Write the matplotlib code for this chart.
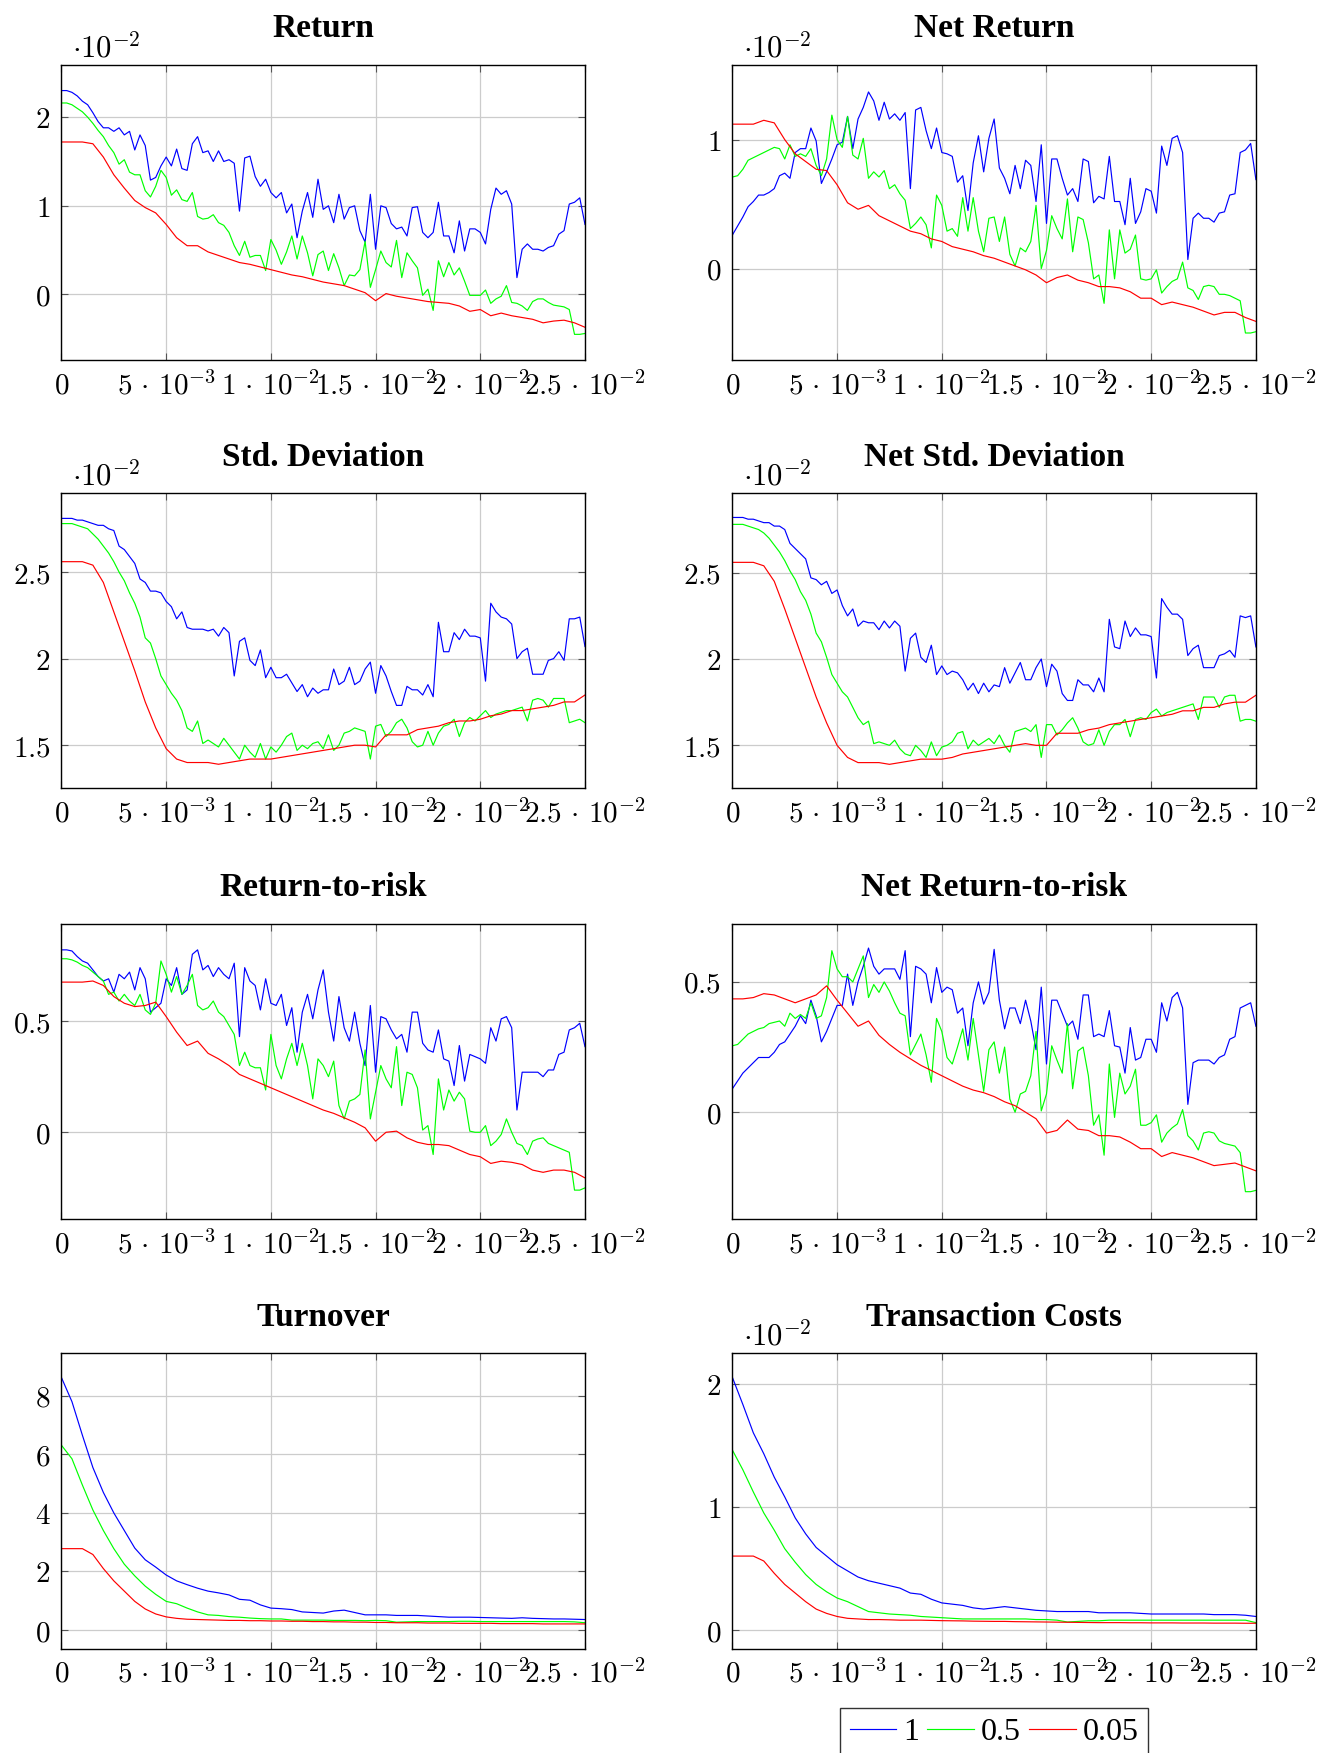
import numpy as np
import matplotlib
matplotlib.use("Agg")
import matplotlib.pyplot as plt
from matplotlib.ticker import FuncFormatter

plt.rcParams['mathtext.fontset'] = 'cm'
plt.rcParams['font.family'] = ['DejaVu Serif']

# x grids (regularisation parameter)
x_fine = np.linspace(0, 0.025, 101)    # step 2.5e-4, noisy series
x_coarse = np.linspace(0, 0.025, 51)   # step 5e-4, smooth series

xticks = [0, 0.005, 0.01, 0.015, 0.02, 0.025]
xtick_labels = ['$0$', r'$5\,\cdot\,10^{-3}$', r'$1\,\cdot\,10^{-2}$',
                r'$1.5\,\cdot\,10^{-2}$', r'$2\,\cdot\,10^{-2}$', r'$2.5\,\cdot\,10^{-2}$']

series_labels = ['1', '0.5', '0.05']

# ---- Return (x1e-2)
ret_1 = [2.30, 2.30, 2.28, 2.24, 2.18, 2.14, 2.05, 1.95,
         1.88, 1.88, 1.84, 1.88, 1.80, 1.84, 1.63, 1.80,
         1.68, 1.29, 1.32, 1.45, 1.55, 1.45, 1.64, 1.42,
         1.40, 1.70, 1.78, 1.60, 1.62, 1.50, 1.62, 1.50,
         1.52, 1.48, 0.94, 1.54, 1.56, 1.33, 1.22, 1.30,
         1.15, 1.09, 1.15, 0.92, 1.02, 0.64, 0.94, 1.15,
         0.87, 1.30, 0.96, 1.00, 0.81, 1.13, 0.85, 0.98,
         1.00, 0.72, 0.59, 1.13, 0.51, 1.00, 0.98, 0.80,
         0.74, 0.76, 0.66, 0.98, 0.99, 0.70, 0.64, 0.70,
         1.04, 0.66, 0.66, 0.47, 0.83, 0.49, 0.74, 0.74,
         0.70, 0.57, 0.96, 1.20, 1.13, 1.17, 1.02, 0.19,
         0.51, 0.57, 0.51, 0.51, 0.49, 0.53, 0.55, 0.68,
         0.72, 1.02, 1.04, 1.09, 0.79]
ret_05 = [2.16, 2.16, 2.14, 2.10, 2.06, 2.00, 1.93, 1.85,
          1.78, 1.68, 1.60, 1.47, 1.52, 1.38, 1.35, 1.35,
          1.17, 1.10, 1.22, 1.40, 1.32, 1.12, 1.18, 1.07,
          1.05, 1.15, 0.88, 0.85, 0.86, 0.90, 0.81, 0.78,
          0.70, 0.55, 0.44, 0.60, 0.42, 0.44, 0.44, 0.27,
          0.62, 0.50, 0.34, 0.48, 0.66, 0.40, 0.66, 0.47,
          0.21, 0.45, 0.49, 0.27, 0.46, 0.30, 0.10, 0.22,
          0.21, 0.28, 0.60, 0.08, 0.28, 0.49, 0.36, 0.31,
          0.61, 0.19, 0.47, 0.38, 0.30, -0.01, 0.06, -0.18,
          0.38, 0.20, 0.36, 0.22, 0.30, 0.15, -0.01, -0.01,
          -0.01, 0.05, -0.10, -0.05, -0.02, 0.10, -0.09, -0.10,
          -0.13, -0.18, -0.08, -0.05, -0.05, -0.09, -0.12, -0.13,
          -0.14, -0.17, -0.45, -0.45, -0.44]
ret_005 = [1.72, 1.72, 1.72, 1.70, 1.55, 1.35, 1.20, 1.06, 0.98, 0.92,
           0.79, 0.64, 0.55, 0.55, 0.48, 0.44, 0.40, 0.36, 0.34, 0.31,
           0.28, 0.25, 0.22, 0.20, 0.17, 0.14, 0.12, 0.10, 0.06, 0.02,
           -0.07, 0.01, -0.02, -0.04, -0.06, -0.08, -0.09, -0.10, -0.13, -0.19,
           -0.17, -0.24, -0.21, -0.24, -0.26, -0.28, -0.32, -0.30, -0.29, -0.32,
           -0.37]

# ---- Net Return (x1e-2)
netret_1 = [0.26, 0.33, 0.40, 0.48, 0.52, 0.57, 0.57, 0.59,
            0.62, 0.72, 0.74, 0.70, 0.90, 0.93, 0.93, 1.09,
            0.99, 0.66, 0.75, 0.85, 0.96, 0.98, 1.18, 0.93,
            1.16, 1.25, 1.37, 1.30, 1.15, 1.29, 1.16, 1.20,
            1.15, 1.21, 0.62, 1.23, 1.25, 1.07, 0.93, 1.09,
            0.90, 0.89, 0.87, 0.67, 0.72, 0.45, 0.82, 1.03,
            0.75, 1.01, 1.16, 0.78, 0.70, 0.58, 0.80, 0.62,
            0.84, 0.80, 0.52, 0.96, 0.35, 0.85, 0.85, 0.70,
            0.57, 0.62, 0.52, 0.85, 0.83, 0.51, 0.56, 0.54,
            0.87, 0.52, 0.52, 0.34, 0.70, 0.35, 0.44, 0.62,
            0.60, 0.43, 0.95, 0.80, 1.01, 1.03, 0.90, 0.07,
            0.39, 0.43, 0.39, 0.39, 0.36, 0.43, 0.44, 0.57,
            0.58, 0.90, 0.92, 0.97, 0.69]
netret_05 = [0.71, 0.72, 0.77, 0.84, 0.86, 0.88, 0.90, 0.92,
             0.94, 0.93, 0.85, 0.96, 0.87, 0.89, 0.87, 0.93,
             0.80, 0.72, 0.85, 1.19, 1.00, 0.94, 1.18, 0.88,
             0.85, 1.01, 0.70, 0.75, 0.71, 0.76, 0.62, 0.65,
             0.58, 0.53, 0.31, 0.35, 0.40, 0.34, 0.16, 0.57,
             0.49, 0.29, 0.31, 0.25, 0.55, 0.29, 0.55, 0.29,
             0.13, 0.39, 0.40, 0.21, 0.40, 0.11, 0.02, 0.16,
             0.13, 0.21, 0.49, 0.00, 0.14, 0.41, 0.31, 0.23,
             0.54, 0.13, 0.40, 0.38, 0.20, -0.08, -0.05, -0.27,
             0.30, -0.08, 0.30, 0.12, 0.15, 0.26, -0.08, -0.09,
             -0.08, -0.01, -0.19, -0.14, -0.10, -0.08, 0.05, -0.15,
             -0.17, -0.24, -0.14, -0.13, -0.14, -0.20, -0.20, -0.21,
             -0.23, -0.25, -0.50, -0.50, -0.49]
netret_005 = [1.12, 1.12, 1.12, 1.15, 1.13, 1.00, 0.89, 0.83, 0.77, 0.76,
              0.65, 0.51, 0.46, 0.49, 0.41, 0.37, 0.33, 0.29, 0.27, 0.23,
              0.21, 0.17, 0.15, 0.13, 0.10, 0.08, 0.05, 0.02, -0.01, -0.05,
              -0.11, -0.07, -0.05, -0.09, -0.11, -0.14, -0.14, -0.15, -0.18, -0.23,
              -0.23, -0.28, -0.26, -0.28, -0.30, -0.33, -0.36, -0.34, -0.34, -0.38,
              -0.41]

# ---- Std. Deviation (x1e-2)
std_1 = [2.81, 2.81, 2.81, 2.80, 2.80, 2.79, 2.78, 2.77,
         2.77, 2.75, 2.74, 2.65, 2.63, 2.59, 2.55, 2.46,
         2.44, 2.39, 2.39, 2.38, 2.33, 2.30, 2.23, 2.27,
         2.18, 2.17, 2.17, 2.17, 2.16, 2.17, 2.13, 2.18,
         2.15, 1.90, 2.10, 2.12, 1.99, 1.96, 2.05, 1.89,
         1.95, 1.89, 1.89, 1.91, 1.86, 1.81, 1.85, 1.78,
         1.83, 1.80, 1.82, 1.82, 1.94, 1.85, 1.87, 1.95,
         1.85, 1.87, 1.94, 1.98, 1.80, 1.96, 1.90, 1.81,
         1.73, 1.73, 1.84, 1.82, 1.82, 1.79, 1.85, 1.78,
         2.21, 2.04, 2.04, 2.15, 2.11, 2.17, 2.13, 2.13,
         2.12, 1.87, 2.32, 2.27, 2.24, 2.23, 2.20, 2.00,
         2.04, 2.06, 1.91, 1.91, 1.91, 1.99, 2.00, 2.04,
         1.99, 2.23, 2.23, 2.24, 2.07]
std_05 = [2.78, 2.78, 2.78, 2.77, 2.76, 2.75, 2.72, 2.69,
          2.65, 2.61, 2.56, 2.50, 2.45, 2.38, 2.32, 2.24,
          2.12, 2.09, 2.00, 1.90, 1.85, 1.80, 1.76, 1.70,
          1.60, 1.58, 1.64, 1.51, 1.53, 1.51, 1.49, 1.54,
          1.50, 1.46, 1.42, 1.50, 1.46, 1.43, 1.51, 1.42,
          1.49, 1.46, 1.50, 1.55, 1.57, 1.47, 1.50, 1.48,
          1.51, 1.52, 1.48, 1.56, 1.47, 1.50, 1.57, 1.58,
          1.60, 1.59, 1.58, 1.42, 1.61, 1.62, 1.55, 1.58,
          1.63, 1.65, 1.60, 1.52, 1.49, 1.50, 1.58, 1.50,
          1.57, 1.61, 1.62, 1.65, 1.55, 1.63, 1.66, 1.64,
          1.67, 1.70, 1.66, 1.68, 1.69, 1.70, 1.70, 1.71,
          1.72, 1.64, 1.76, 1.77, 1.76, 1.72, 1.77, 1.77,
          1.77, 1.63, 1.64, 1.65, 1.63]
std_005 = [2.56, 2.56, 2.56, 2.54, 2.44, 2.27, 2.10, 1.93, 1.75, 1.60,
           1.48, 1.42, 1.40, 1.40, 1.40, 1.39, 1.40, 1.41, 1.42, 1.42,
           1.42, 1.43, 1.44, 1.45, 1.46, 1.47, 1.48, 1.49, 1.50, 1.50,
           1.49, 1.56, 1.56, 1.56, 1.59, 1.60, 1.61, 1.63, 1.64, 1.64,
           1.65, 1.67, 1.68, 1.70, 1.70, 1.71, 1.72, 1.73, 1.75, 1.75,
           1.79]

# ---- Net Std. Deviation (x1e-2)
netstd_1 = [2.82, 2.82, 2.82, 2.81, 2.81, 2.80, 2.79, 2.79,
            2.77, 2.77, 2.75, 2.67, 2.64, 2.61, 2.58, 2.47,
            2.46, 2.43, 2.45, 2.38, 2.40, 2.31, 2.25, 2.29,
            2.19, 2.22, 2.21, 2.21, 2.17, 2.22, 2.18, 2.22,
            2.19, 1.93, 2.12, 2.15, 2.01, 1.98, 2.08, 1.91,
            1.96, 1.91, 1.93, 1.92, 1.88, 1.82, 1.86, 1.80,
            1.86, 1.81, 1.85, 1.84, 1.95, 1.86, 1.92, 1.98,
            1.88, 1.88, 1.95, 2.00, 1.84, 1.97, 1.93, 1.80,
            1.76, 1.76, 1.88, 1.85, 1.85, 1.81, 1.89, 1.81,
            2.23, 2.07, 2.06, 2.22, 2.13, 2.18, 2.14, 2.14,
            2.13, 1.89, 2.35, 2.30, 2.26, 2.26, 2.23, 2.02,
            2.06, 2.08, 1.95, 1.95, 1.95, 2.02, 2.03, 2.05,
            2.01, 2.25, 2.24, 2.25, 2.07]
netstd_05 = [2.78, 2.78, 2.78, 2.77, 2.76, 2.75, 2.73, 2.70,
             2.66, 2.62, 2.57, 2.51, 2.46, 2.39, 2.34, 2.26,
             2.15, 2.10, 2.01, 1.91, 1.86, 1.81, 1.78, 1.72,
             1.66, 1.62, 1.64, 1.51, 1.52, 1.51, 1.50, 1.53,
             1.48, 1.45, 1.44, 1.50, 1.47, 1.43, 1.52, 1.44,
             1.49, 1.50, 1.52, 1.57, 1.58, 1.48, 1.53, 1.50,
             1.52, 1.54, 1.51, 1.56, 1.50, 1.46, 1.58, 1.59,
             1.60, 1.58, 1.62, 1.43, 1.62, 1.62, 1.56, 1.59,
             1.63, 1.66, 1.60, 1.52, 1.50, 1.51, 1.59, 1.50,
             1.58, 1.62, 1.62, 1.65, 1.55, 1.65, 1.66, 1.65,
             1.69, 1.71, 1.67, 1.69, 1.70, 1.71, 1.72, 1.73,
             1.74, 1.65, 1.78, 1.78, 1.78, 1.72, 1.78, 1.79,
             1.79, 1.64, 1.65, 1.65, 1.64]
netstd_005 = [2.56, 2.56, 2.56, 2.54, 2.45, 2.29, 2.12, 1.95, 1.78, 1.63,
              1.50, 1.43, 1.40, 1.40, 1.40, 1.39, 1.40, 1.41, 1.42, 1.42,
              1.42, 1.43, 1.45, 1.46, 1.47, 1.48, 1.49, 1.50, 1.51, 1.50,
              1.50, 1.57, 1.57, 1.57, 1.59, 1.60, 1.62, 1.63, 1.64, 1.65,
              1.66, 1.67, 1.68, 1.70, 1.70, 1.72, 1.72, 1.74, 1.75, 1.75,
              1.79]

# ---- Return-to-risk
rtr_1 = [0.82, 0.82, 0.815, 0.79, 0.77, 0.76, 0.73, 0.70,
         0.68, 0.69, 0.63, 0.71, 0.69, 0.72, 0.64, 0.74,
         0.69, 0.54, 0.56, 0.58, 0.69, 0.66, 0.74, 0.62,
         0.64, 0.80, 0.82, 0.73, 0.75, 0.70, 0.74, 0.71,
         0.69, 0.76, 0.43, 0.74, 0.68, 0.66, 0.55, 0.69,
         0.58, 0.57, 0.62, 0.48, 0.56, 0.36, 0.54, 0.62,
         0.51, 0.64, 0.73, 0.54, 0.41, 0.61, 0.47, 0.41,
         0.54, 0.40, 0.30, 0.57, 0.27, 0.52, 0.51, 0.46,
         0.42, 0.44, 0.36, 0.54, 0.54, 0.40, 0.37, 0.36,
         0.46, 0.33, 0.32, 0.21, 0.39, 0.23, 0.35, 0.34,
         0.33, 0.31, 0.47, 0.41, 0.51, 0.52, 0.47, 0.10,
         0.27, 0.27, 0.27, 0.27, 0.25, 0.28, 0.28, 0.35,
         0.36, 0.46, 0.47, 0.49, 0.385]
rtr_05 = [0.78, 0.78, 0.775, 0.765, 0.75, 0.74, 0.72, 0.70,
          0.68, 0.62, 0.63, 0.59, 0.62, 0.59, 0.57, 0.62,
          0.55, 0.53, 0.58, 0.77, 0.71, 0.63, 0.70, 0.62,
          0.66, 0.71, 0.57, 0.55, 0.56, 0.59, 0.54, 0.52,
          0.48, 0.44, 0.30, 0.36, 0.30, 0.29, 0.29, 0.19,
          0.44, 0.30, 0.24, 0.33, 0.40, 0.30, 0.40, 0.30,
          0.15, 0.33, 0.30, 0.25, 0.32, 0.12, 0.06, 0.14,
          0.15, 0.17, 0.37, 0.06, 0.18, 0.30, 0.24, 0.20,
          0.385, 0.12, 0.27, 0.26, 0.20, 0.01, 0.03, -0.10,
          0.24, 0.10, 0.19, 0.14, 0.18, 0.15, 0.005, 0.00,
          0.00, 0.03, -0.06, -0.04, -0.01, 0.06, 0.00, -0.05,
          -0.06, -0.10, -0.04, -0.03, -0.025, -0.05, -0.06, -0.07,
          -0.08, -0.09, -0.26, -0.26, -0.25]
rtr_005 = [0.675, 0.675, 0.675, 0.68, 0.66, 0.61, 0.58, 0.565, 0.57, 0.585,
           0.52, 0.45, 0.39, 0.41, 0.355, 0.33, 0.30, 0.26, 0.24, 0.22,
           0.20, 0.18, 0.16, 0.14, 0.12, 0.10, 0.085, 0.065, 0.045, 0.02,
           -0.04, 0.00, 0.005, -0.025, -0.045, -0.055, -0.055, -0.06, -0.08, -0.10,
           -0.11, -0.14, -0.13, -0.135, -0.145, -0.17, -0.18, -0.17, -0.17, -0.18,
           -0.205]

# ---- Net Return-to-risk
netrtr_1 = [0.09, 0.12, 0.15, 0.17, 0.19, 0.21, 0.21, 0.21,
            0.23, 0.26, 0.27, 0.30, 0.33, 0.37, 0.34, 0.43,
            0.37, 0.27, 0.31, 0.36, 0.41, 0.41, 0.53, 0.41,
            0.50, 0.56, 0.63, 0.56, 0.53, 0.55, 0.55, 0.55,
            0.51, 0.62, 0.29, 0.56, 0.55, 0.53, 0.42, 0.555,
            0.46, 0.48, 0.47, 0.38, 0.40, 0.255, 0.42, 0.50,
            0.415, 0.46, 0.625, 0.43, 0.32, 0.40, 0.40, 0.34,
            0.43, 0.35, 0.24, 0.48, 0.185, 0.43, 0.43, 0.38,
            0.33, 0.35, 0.28, 0.45, 0.45, 0.29, 0.30, 0.29,
            0.39, 0.255, 0.25, 0.15, 0.325, 0.20, 0.21, 0.28,
            0.28, 0.23, 0.42, 0.35, 0.44, 0.46, 0.40, 0.03,
            0.19, 0.20, 0.20, 0.20, 0.185, 0.21, 0.22, 0.28,
            0.29, 0.40, 0.41, 0.42, 0.33]
netrtr_05 = [0.255, 0.26, 0.28, 0.30, 0.31, 0.32, 0.325, 0.34,
             0.345, 0.35, 0.33, 0.38, 0.36, 0.375, 0.36, 0.42,
             0.36, 0.37, 0.44, 0.62, 0.55, 0.52, 0.52, 0.50,
             0.55, 0.60, 0.44, 0.49, 0.46, 0.50, 0.465, 0.42,
             0.38, 0.37, 0.22, 0.26, 0.30, 0.22, 0.115, 0.36,
             0.31, 0.21, 0.185, 0.25, 0.32, 0.20, 0.36, 0.22,
             0.08, 0.24, 0.27, 0.15, 0.25, 0.05, 0.00, 0.07,
             0.08, 0.14, 0.31, 0.005, 0.07, 0.255, 0.20, 0.15,
             0.34, 0.09, 0.235, 0.25, 0.14, -0.05, -0.01, -0.165,
             0.185, -0.02, 0.15, 0.07, 0.10, 0.165, -0.05, -0.05,
             -0.04, -0.01, -0.115, -0.08, -0.06, -0.045, 0.01, -0.09,
             -0.11, -0.145, -0.08, -0.075, -0.08, -0.11, -0.12, -0.125,
             -0.13, -0.155, -0.305, -0.305, -0.30]
netrtr_005 = [0.435, 0.435, 0.44, 0.455, 0.45, 0.435, 0.42, 0.435, 0.45, 0.485,
              0.43, 0.38, 0.33, 0.35, 0.295, 0.26, 0.23, 0.205, 0.18, 0.16,
              0.14, 0.12, 0.10, 0.085, 0.075, 0.06, 0.04, 0.025, 0.00, -0.025,
              -0.08, -0.07, -0.03, -0.065, -0.07, -0.09, -0.09, -0.095, -0.115, -0.14,
              -0.14, -0.17, -0.155, -0.165, -0.175, -0.19, -0.205, -0.20, -0.195, -0.21,
              -0.225]

# ---- Turnover
turn_1 = [8.62, 7.80, 6.65, 5.55, 4.70, 4.00, 3.40, 2.80, 2.40, 2.15,
          1.88, 1.68, 1.55, 1.43, 1.33, 1.27, 1.20, 1.05, 1.02, 0.86,
          0.75, 0.73, 0.70, 0.62, 0.60, 0.58, 0.65, 0.68, 0.60, 0.52,
          0.52, 0.52, 0.50, 0.50, 0.50, 0.48, 0.46, 0.44, 0.44, 0.44,
          0.43, 0.42, 0.41, 0.40, 0.42, 0.40, 0.39, 0.38, 0.38, 0.37,
          0.36]
turn_05 = [6.31, 5.85, 4.95, 4.10, 3.40, 2.78, 2.25, 1.85, 1.50, 1.22,
           0.98, 0.90, 0.75, 0.62, 0.52, 0.50, 0.46, 0.44, 0.41, 0.39,
           0.38, 0.38, 0.34, 0.34, 0.34, 0.34, 0.33, 0.33, 0.33, 0.32,
           0.33, 0.32, 0.27, 0.28, 0.29, 0.29, 0.29, 0.29, 0.30, 0.30,
           0.29, 0.29, 0.29, 0.29, 0.29, 0.29, 0.29, 0.29, 0.29, 0.28,
           0.25]
turn_005 = [2.78, 2.78, 2.78, 2.58, 2.10, 1.68, 1.33, 0.98, 0.72, 0.55,
            0.45, 0.40, 0.37, 0.36, 0.35, 0.34, 0.33, 0.33, 0.32, 0.32,
            0.31, 0.31, 0.30, 0.30, 0.29, 0.29, 0.28, 0.28, 0.27, 0.27,
            0.26, 0.26, 0.25, 0.25, 0.25, 0.24, 0.24, 0.24, 0.23, 0.23,
            0.23, 0.23, 0.22, 0.22, 0.22, 0.22, 0.21, 0.21, 0.21, 0.21,
            0.21]

# ---- Transaction Costs (x1e-2)
tc_1 = [2.05, 1.83, 1.60, 1.43, 1.24, 1.08, 0.91, 0.78, 0.67, 0.60,
        0.53, 0.48, 0.43, 0.40, 0.38, 0.36, 0.34, 0.30, 0.29, 0.25,
        0.22, 0.21, 0.20, 0.18, 0.17, 0.18, 0.19, 0.18, 0.17, 0.16,
        0.155, 0.15, 0.15, 0.15, 0.15, 0.14, 0.14, 0.14, 0.14, 0.135,
        0.13, 0.13, 0.13, 0.13, 0.13, 0.13, 0.125, 0.125, 0.125, 0.12,
        0.11]
tc_05 = [1.46, 1.30, 1.12, 0.95, 0.81, 0.66, 0.55, 0.45, 0.37, 0.31,
         0.26, 0.23, 0.19, 0.15, 0.14, 0.13, 0.125, 0.12, 0.11, 0.105,
         0.10, 0.095, 0.09, 0.09, 0.09, 0.09, 0.09, 0.09, 0.09, 0.085,
         0.085, 0.08, 0.065, 0.07, 0.075, 0.075, 0.08, 0.08, 0.08, 0.08,
         0.08, 0.08, 0.08, 0.08, 0.08, 0.08, 0.08, 0.08, 0.08, 0.08,
         0.06]
tc_005 = [0.60, 0.60, 0.60, 0.56, 0.46, 0.37, 0.30, 0.23, 0.17, 0.135,
          0.11, 0.095, 0.09, 0.085, 0.085, 0.083, 0.08, 0.08, 0.08, 0.078,
          0.076, 0.075, 0.074, 0.072, 0.071, 0.07, 0.07, 0.068, 0.067, 0.066,
          0.065, 0.064, 0.063, 0.062, 0.061, 0.06, 0.06, 0.06, 0.059, 0.059,
          0.058, 0.058, 0.058, 0.057, 0.057, 0.057, 0.056, 0.056, 0.056, 0.055,
          0.055]

# panel setup: title, series (x, y) per coefficient, y limits, y ticks, 10^-2 label
panels = [
    ("Return", [(x_fine, ret_1), (x_fine, ret_05), (x_coarse, ret_005)],
     (-0.74, 2.59), [0, 1, 2], True),
    ("Net Return", [(x_fine, netret_1), (x_fine, netret_05), (x_coarse, netret_005)],
     (-0.71, 1.58), [0, 1], True),
    ("Std. Deviation", [(x_fine, std_1), (x_fine, std_05), (x_coarse, std_005)],
     (1.25, 2.955), [1.5, 2, 2.5], True),
    ("Net Std. Deviation", [(x_fine, netstd_1), (x_fine, netstd_05), (x_coarse, netstd_005)],
     (1.25, 2.96), [1.5, 2, 2.5], True),
    ("Return-to-risk", [(x_fine, rtr_1), (x_fine, rtr_05), (x_coarse, rtr_005)],
     (-0.39, 0.937), [0, 0.5], False),
    ("Net Return-to-risk", [(x_fine, netrtr_1), (x_fine, netrtr_05), (x_coarse, netrtr_005)],
     (-0.41, 0.723), [0, 0.5], False),
    ("Turnover", [(x_coarse, turn_1), (x_coarse, turn_05), (x_coarse, turn_005)],
     (-0.63, 9.45), [0, 2, 4, 6, 8], False),
    ("Transaction Costs", [(x_coarse, tc_1), (x_coarse, tc_05), (x_coarse, tc_005)],
     (-0.15, 2.245), [0, 1, 2], True),
]

colors = ['#0000ff', '#00ff00', '#ff0000']

fig = plt.figure(figsize=(13.22, 17.53), dpi=100)
lefts = [0.0465, 0.554]
bottoms = [0.7946, 0.5502, 0.3046, 0.0596]
w, h = 0.396, 0.1684

for i, (title, series, ylim, yticks, scaled) in enumerate(panels):
    ax = fig.add_axes([lefts[i % 2], bottoms[i // 2], w, h])
    lines = []
    for (xs, ys), c in zip(series, colors):
        ln, = ax.plot(xs, ys, color=c, lw=0.85)
        lines.append(ln)
    ax.set_xlim(0, 0.025)
    ax.set_ylim(*ylim)
    ax.set_xticks(xticks)
    ax.set_xticklabels(xtick_labels)
    ax.set_yticks(yticks)
    ax.yaxis.set_major_formatter(FuncFormatter(lambda v, p: f'${v:g}$'))
    ax.grid(True, color='#cccccc', lw=0.9)
    ax.set_axisbelow(True)
    ax.tick_params(direction='in', length=5, width=0.8, color='#555555',
                   top=True, right=True, labelsize=21, pad=8)
    for s in ax.spines.values():
        s.set_linewidth(1.0)
        s.set_color('black')
    ax.set_title(title, fontsize=24, fontweight='bold',
                 family='Liberation Serif', pad=20)
    if scaled:
        # pgfplots style scale label above the top-left corner
        ax.text(0.021, 1.027, r'$\cdot10^{-2}$', transform=ax.transAxes,
                fontsize=22, ha='left', va='baseline')

leg = ax.legend(lines, series_labels,
                loc='upper center', bbox_to_anchor=(0.5, -0.2017), ncol=3,
                prop={'family': 'Liberation Serif', 'size': 23},
                frameon=True, fancybox=False, edgecolor='black',
                handlelength=1.46, handletextpad=0.22, columnspacing=0.25,
                borderaxespad=0, borderpad=0.3)
leg.get_frame().set_linewidth(1.0)

fig.savefig("out.png", dpi=100)
